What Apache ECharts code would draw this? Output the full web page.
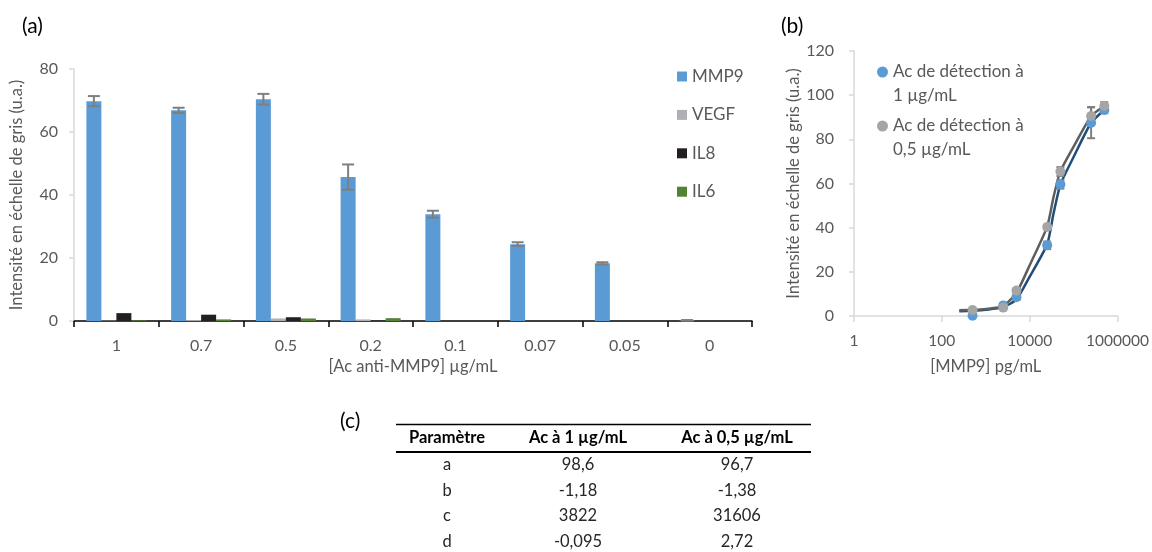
<!DOCTYPE html>
<html><head><meta charset="utf-8">
<script src="https://cdn.jsdelivr.net/npm/echarts@6/dist/echarts.min.js"></script>
<style>html,body{margin:0;padding:0;background:#fff}#c{width:1152px;height:552px}</style>
</head><body><div id="c"></div>
<script>
// ---- Panel (a) data ----
const concCategories = ['1', '0.7', '0.5', '0.2', '0.1', '0.07', '0.05', '0'];
const mmp9 = [69.8, 66.9, 70.4, 45.7, 33.9, 24.4, 18.3, 0.2];
const mmp9Err = [1.6, 0.8, 1.7, 4.0, 1.1, 0.6, 0.35, 0.1];
const vegf = [0.1, 0.3, 0.8, 0.5, 0, 0, 0, 0];
const il8 = [2.5, 2.0, 1.2, 0.1, 0, 0, 0, 0];
const il6 = [0.2, 0.5, 0.8, 0.9, 0, 0, 0, 0];

// ---- Panel (b) data ----
const mmp9Conc = [500, 2500, 5000, 25000, 50000, 250000, 500000];
const signal1 = [0.1, 4.8, 8.5, 32.0, 59.6, 87.5, 93.3];
const signal1Err = [0.3, 0.5, 1.2, 1.7, 1.9, 7.0, 1.5];
const signal05 = [2.7, 3.8, 11.5, 40.3, 65.4, 90.6, 95.1];
const signal05Err = [0.3, 0.5, 1.0, 1.0, 2.0, 4.0, 1.7];
const fitConc = [250, 500, 1000, 2500, 5000, 10000, 25000, 35000, 50000, 100000, 250000, 500000];
const fit1 = [2.2, 2.4, 2.8, 4.0, 7.5, 17.8, 32.5, 46.5, 59.5, 72.0, 87.5, 93.3];
const fit05 = [2.6, 2.8, 3.2, 4.5, 10.5, 23.0, 40.5, 54.0, 65.5, 76.7, 90.5, 95.1];

// ---- Panel (c) table ----
const tableHeader = ['Paramètre', 'Ac à 1 µg/mL', 'Ac à 0,5 µg/mL'];
const paramNames = ['a', 'b', 'c', 'd'];
const paramAc1 = ['98,6', '-1,18', '3822', '-0,095'];
const paramAc05 = ['96,7', '-1,38', '31606', '2,72'];

const FONT = 'Lato';
const TXT = '#595959';
const BAR_W = 15;

function errBarRenderer(offsetFn, capW, color) {
  return function (params, api) {
    const x = api.value(0), y = api.value(1), e = api.value(2);
    const hi = api.coord([x, y + e]);
    const lo = api.coord([x, Math.max(y - e, 0.0001)]);
    const dx = offsetFn(api);
    const cx = hi[0] + dx;
    const st = { stroke: color, lineWidth: 2 };
    return { type: 'group', children: [
      { type: 'line', shape: { x1: cx, y1: hi[1], x2: cx, y2: lo[1] }, style: st },
      { type: 'line', shape: { x1: cx - capW / 2, y1: hi[1], x2: cx + capW / 2, y2: hi[1] }, style: st },
      { type: 'line', shape: { x1: cx - capW / 2, y1: lo[1], x2: cx + capW / 2, y2: lo[1] }, style: st }
    ]};
  };
}

// table graphics
const colX = [447, 578, 737];
const headerY = 438;
const rowY0 = 465, rowH = 25.4;
const tableGraphics = [
  { type: 'line', shape: { x1: 396, y1: 424.5, x2: 811, y2: 424.5 }, style: { stroke: '#000', lineWidth: 1.5 } },
  { type: 'line', shape: { x1: 396, y1: 452, x2: 811, y2: 452 }, style: { stroke: '#000', lineWidth: 2 } }
];
tableHeader.forEach((t, i) => tableGraphics.push({ type: 'text', x: colX[i], y: headerY,
  style: { text: t, align: 'center', verticalAlign: 'middle', font: 'bold 16.5px ' + FONT, fill: '#000' } }));
paramNames.forEach((p, r) => {
  [p, paramAc1[r], paramAc05[r]].forEach((t, i) => tableGraphics.push({ type: 'text', x: colX[i], y: rowY0 + r * rowH,
    style: { text: t, align: 'center', verticalAlign: 'middle', font: '16.5px ' + FONT, fill: '#262626' } }));
});

const chart = echarts.init(document.getElementById('c'), null, { renderer: 'canvas' });
chart.setOption({
  animation: false,
  textStyle: { fontFamily: FONT },
  title: [
    { text: '(a)', left: 22, top: 16, padding: 0, textStyle: { fontSize: 21, fontWeight: 'normal', color: '#000', fontFamily: FONT } },
    { text: '(b)', left: 781, top: 16, padding: 0, textStyle: { fontSize: 21, fontWeight: 'normal', color: '#000', fontFamily: FONT } },
    { text: '(c)', left: 340, top: 411, padding: 0, textStyle: { fontSize: 21, fontWeight: 'normal', color: '#000', fontFamily: FONT } }
  ],
  legend: [
    { data: ['MMP9', 'VEGF', 'IL8', 'IL6'], orient: 'vertical', left: 677, top: 68, padding: 0, itemWidth: 10, itemHeight: 10,
      itemGap: 21.4, icon: 'rect', textStyle: { color: TXT, fontSize: 17, fontFamily: FONT } },
    { data: ['Ac de détection à 1 µg/mL', 'Ac de détection à 0,5 µg/mL'], orient: 'vertical', left: 877, top: 36, padding: 0,
      itemWidth: 11, itemHeight: 11, itemGap: -18, icon: 'circle',
      formatter: n => '\n' + n.replace(' à ', ' à\n'),
      textStyle: { color: TXT, fontSize: 17, fontFamily: FONT, lineHeight: 24 } }
  ],
  grid: [
    { left: 72, right: 400, top: 69, bottom: 231 },
    { left: 854, right: 34, top: 51, bottom: 236 }
  ],
  xAxis: [
    { type: 'category', gridIndex: 0, data: concCategories,
      axisLine: { lineStyle: { color: '#000', width: 1.5 } },
      axisTick: { show: true, length: 6, lineStyle: { color: '#000', width: 1.5 } },
      axisLabel: { color: TXT, fontSize: 16, margin: 17 },
      name: '[Ac anti-MMP9] µg/mL', nameLocation: 'middle', nameGap: 37,
      nameTextStyle: { color: TXT, fontSize: 16.5 } },
    { type: 'log', gridIndex: 1, logBase: 100, min: 1, max: 1000000,
      axisLine: { lineStyle: { color: '#d9d9d9', width: 1.5 } },
      axisTick: { show: true, length: 6, lineStyle: { color: '#d9d9d9', width: 1.5 } },
      splitLine: { show: false }, minorTick: { show: false },
      axisLabel: { color: TXT, fontSize: 15.5, margin: 17, formatter: v => String(Math.round(v)) },
      name: '[MMP9] pg/mL', nameLocation: 'middle', nameGap: 42,
      nameTextStyle: { color: TXT, fontSize: 16.5 } }
  ],
  yAxis: [
    { type: 'value', gridIndex: 0, min: 0, max: 80, interval: 20,
      axisLine: { show: true, lineStyle: { color: '#d9d9d9', width: 1.5 } },
      axisTick: { show: true, length: 5, lineStyle: { color: '#d9d9d9', width: 1.5 } },
      splitLine: { show: false },
      axisLabel: { color: TXT, fontSize: 16, margin: 16 },
      name: 'Intensité en échelle de gris (u.a.)', nameLocation: 'middle', nameGap: 49,
      nameTextStyle: { color: TXT, fontSize: 16.5 } },
    { type: 'value', gridIndex: 1, min: 0, max: 120, interval: 20,
      axisLine: { show: true, lineStyle: { color: '#d9d9d9', width: 1.5 } },
      axisTick: { show: true, length: 5, lineStyle: { color: '#d9d9d9', width: 1.5 } },
      splitLine: { show: false },
      axisLabel: { color: TXT, fontSize: 16, margin: 20 },
      name: 'Intensité en échelle de gris (u.a.)', nameLocation: 'middle', nameGap: 52,
      nameTextStyle: { color: TXT, fontSize: 16.5 } }
  ],
  series: [
    { name: 'MMP9', type: 'bar', xAxisIndex: 0, yAxisIndex: 0, data: mmp9, barWidth: BAR_W, barGap: '0%', itemStyle: { color: '#5b9bd5' } },
    { name: 'VEGF', type: 'bar', xAxisIndex: 0, yAxisIndex: 0, data: vegf, barWidth: BAR_W, barGap: '0%', itemStyle: { color: '#b0b0b4' } },
    { name: 'IL8', type: 'bar', xAxisIndex: 0, yAxisIndex: 0, data: il8, barWidth: BAR_W, barGap: '0%', itemStyle: { color: '#231f20' } },
    { name: 'IL6', type: 'bar', xAxisIndex: 0, yAxisIndex: 0, data: il6, barWidth: BAR_W, barGap: '0%', itemStyle: { color: '#548235' } },
    { name: 'MMP9 err', type: 'custom', xAxisIndex: 0, yAxisIndex: 0, z: 5,
      data: mmp9.map((v, i) => [i, v, mmp9Err[i]]),
      renderItem: errBarRenderer(() => -1.5 * BAR_W, 12, '#7f7f7f') },
    { name: 'fit1', type: 'line', xAxisIndex: 1, yAxisIndex: 1, smooth: 0.2, showSymbol: false, symbol: 'none',
      data: fitConc.map((c, i) => [c, fit1[i]]), lineStyle: { color: '#1f4e79', width: 2.5 }, z: 2 },
    { name: 'fit05', type: 'line', xAxisIndex: 1, yAxisIndex: 1, smooth: 0.2, showSymbol: false, symbol: 'none',
      data: fitConc.map((c, i) => [c, fit05[i]]), lineStyle: { color: '#5e5e5e', width: 2.5 }, z: 2 },
    { name: 'err1', type: 'custom', xAxisIndex: 1, yAxisIndex: 1, z: 3,
      data: mmp9Conc.map((c, i) => [c, signal1[i], signal1Err[i]]),
      renderItem: errBarRenderer(() => 0, 8, '#7f7f7f') },
    { name: 'err05', type: 'custom', xAxisIndex: 1, yAxisIndex: 1, z: 3,
      data: mmp9Conc.map((c, i) => [c, signal05[i], signal05Err[i]]),
      renderItem: errBarRenderer(() => 0, 8, '#7f7f7f') },
    { name: 'Ac de détection à 1 µg/mL', type: 'scatter', xAxisIndex: 1, yAxisIndex: 1, symbolSize: 10, z: 4,
      data: mmp9Conc.map((c, i) => [c, signal1[i]]), itemStyle: { color: '#5b9bd5', opacity: 1 } },
    { name: 'Ac de détection à 0,5 µg/mL', type: 'scatter', xAxisIndex: 1, yAxisIndex: 1, symbolSize: 10, z: 4,
      data: mmp9Conc.map((c, i) => [c, signal05[i]]), itemStyle: { color: '#a5a5a5', opacity: 1 } }
  ],
  graphic: tableGraphics
});
</script></body></html>
